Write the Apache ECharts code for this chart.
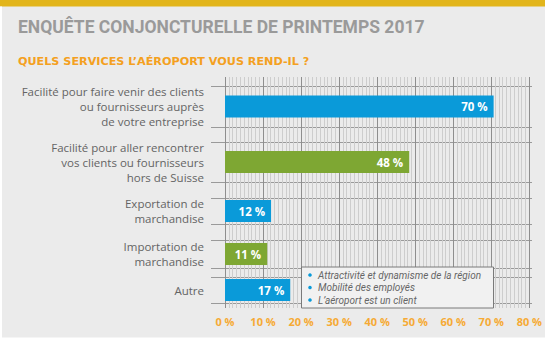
<!DOCTYPE html>
<html>
<head>
<meta charset="utf-8">
<script src="https://cdn.jsdelivr.net/npm/echarts@6/dist/echarts.min.js"></script>
<style>
  html, body { margin: 0; padding: 0; background: #ffffff; }
  #chart { width: 545px; height: 340px; }
</style>
</head>
<body>
<div id="chart"></div>
<script>
// ---- data ----
const titleText = 'ENQUÊTE CONJONCTURELLE DE PRINTEMPS 2017';
const subtitleText = 'QUELS SERVICES L\u2019AÉROPORT VOUS REND-IL ?';
const categories = [
  'Facilité pour faire venir des clients\nou fournisseurs auprès\nde votre entreprise',
  'Facilité pour aller rencontrer\nvos clients ou fournisseurs\nhors de Suisse',
  'Exportation de\nmarchandise',
  'Importation de\nmarchandise',
  'Autre'
];
const values = [70, 48, 12, 11, 17];
const xTickMin = 0;
const xTickMax = 80;
const xTickStep = 10;
const noteLines = [
  'Attractivité et dynamisme de la région',
  'Mobilité des employés',
  'L\u2019aéroport est un client'
];

// ---- layout / style ----
const BLUE = '#0a9ad9';
const GREEN = '#7ea733';
const barColors = [BLUE, GREEN, BLUE, GREEN, BLUE];
const bands = [[86, 127], [142, 182], [198, 224], [240, 268], [277, 303]];
const GRID_LEFT = 225, GRID_RIGHT = 13;
const FONT = '"Open Sans", "Noto Sans", sans-serif';

const grids = [{ left: GRID_LEFT, right: GRID_RIGHT, top: 77, bottom: 32 }];
const xAxes = [{
  gridIndex: 0, type: 'value', min: xTickMin, max: xTickMax, interval: xTickStep,
  axisLine: { show: false }, axisTick: { show: false },
  minorTick: { show: false, splitNumber: 10 },
  splitLine: { show: true, lineStyle: { color: '#8e8e8e', width: 1 } },
  minorSplitLine: { show: true, lineStyle: { color: '#cdcdcd', width: 1 } },
  axisLabel: {
    formatter: v => v + ' %', color: '#f6aa35', fontWeight: 'bold',
    fontSize: 11, fontFamily: FONT, margin: 8
  }
}];
const yAxes = [{ gridIndex: 0, type: 'value', show: false }];
const series = [];

bands.forEach((b, i) => {
  grids.push({ left: GRID_LEFT, right: GRID_RIGHT, top: b[0], height: b[1] - b[0] });
  xAxes.push({ gridIndex: i + 1, type: 'value', min: xTickMin, max: xTickMax, show: false });
  yAxes.push({
    gridIndex: i + 1, type: 'category', data: [categories[i]],
    axisLine: { show: false },
    axisTick: { show: true, length: 14, lineStyle: { color: '#9a9a9a' } },
    splitLine: { show: true, lineStyle: { color: '#9a9a9a', width: 1 } },
    axisLabel: {
      color: '#646464', fontSize: 11.5, lineHeight: 15, fontFamily: FONT,
      margin: 21, align: 'right'
    }
  });
  series.push({
    type: 'bar', xAxisIndex: i + 1, yAxisIndex: i + 1,
    data: [values[i]], barWidth: 22, z: 5,
    itemStyle: { color: barColors[i] },
    label: {
      show: true, position: 'insideRight', distance: 6,
      formatter: p => p.value + ' %', color: '#ffffff',
      fontWeight: 'bold', fontSize: 11.5, fontFamily: FONT
    }
  });
});

const noteGraphics = [];
noteGraphics.push({
  type: 'rect', z: 100,
  shape: { x: 301.5, y: 267, width: 192, height: 41 },
  style: { fill: '#f1f1f1', stroke: '#7a7a7a', lineWidth: 1 }
});
noteLines.forEach((t, i) => {
  const y = 275 + i * 12.5;
  noteGraphics.push({
    type: 'circle', z: 101, shape: { cx: 310, cy: y, r: 1.8 },
    style: { fill: BLUE }
  });
  noteGraphics.push({
    type: 'text', z: 101, x: 318, y: y,
    style: {
      text: t, fill: '#666666',
      fontStyle: 'italic', fontSize: 10, fontFamily: 'Roboto, sans-serif',
      textVerticalAlign: 'middle', verticalAlign: 'middle'
    }
  });
});

const chart = echarts.init(document.getElementById('chart'), null, { renderer: 'svg' });
chart.setOption({
  backgroundColor: '#ebebeb',
  animation: false,
  grid: grids,
  xAxis: xAxes,
  yAxis: yAxes,
  series: series,
  graphic: [
    { type: 'rect', z: -1, shape: { x: 0, y: 0, width: 545, height: 6.5 }, style: { fill: '#e2b51b' } },
    { type: 'rect', z: -1, shape: { x: 0, y: 6.5, width: 2, height: 334 }, style: { fill: '#ffffff' } },
    { type: 'rect', z: -1, shape: { x: 0, y: 337.5, width: 545, height: 3 }, style: { fill: '#ffffff' } },
    {
      type: 'text', x: 18, y: 27,
      style: {
        text: titleText, fill: '#9a9a9a', font: 'bold 17.5px Roboto, sans-serif',
        textVerticalAlign: 'middle', verticalAlign: 'middle'
      }
    },
    {
      type: 'text', x: 18, y: 61.5,
      style: {
        text: subtitleText, fill: '#f4a020', font: 'bold 11.2px "DejaVu Sans", sans-serif',
        textVerticalAlign: 'middle', verticalAlign: 'middle'
      }
    }
  ].concat(noteGraphics)
});
</script>
</body>
</html>
